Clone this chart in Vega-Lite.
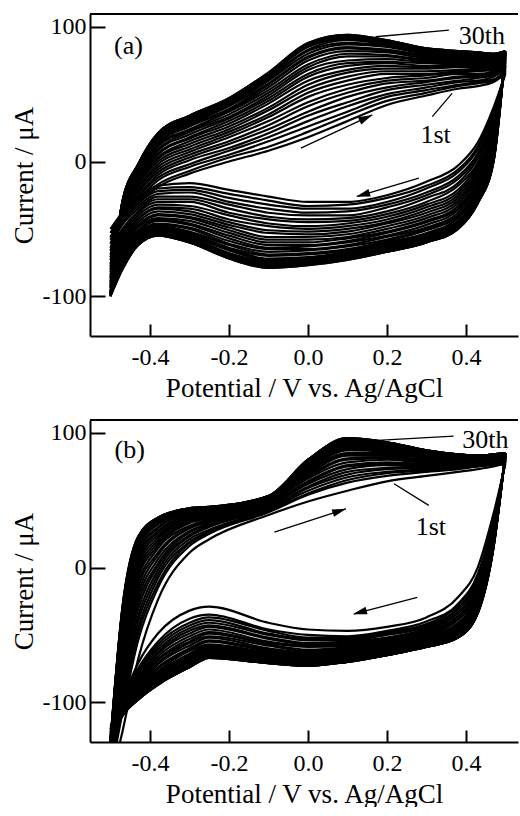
{
"$schema":"https://vega.github.io/schema/vega-lite/v6.json",
"background":"white",
"padding":{"left":10,"top":13,"right":0,"bottom":0},
"config":{"view":{"stroke":null},"axis":{"labelFont":"Liberation Serif","titleFont":"Liberation Serif","labelFontSize":24,"titleFontSize":27,"titleFontWeight":"normal","labelColor":"black","titleColor":"black","domainColor":"black","tickColor":"black","domainWidth":2,"tickWidth":2,"grid":false,"labelFlush":false,"labelOverlap":false}},
"datasets":{
"a":[
{"c":1,"x":-0.5,"f":-50,"r":-50},{"c":1,"x":-0.47,"f":-42,"r":-38},{"c":1,"x":-0.43,"f":-31,"r":-27},{"c":1,"x":-0.38,"f":-19,"r":-18},{"c":1,"x":-0.3,"f":-9,"r":-16},{"c":1,"x":-0.2,"f":0,"r":-21},{"c":1,"x":-0.1,"f":8,"r":-26},{"c":1,"x":0,"f":18,"r":-30},{"c":1,"x":0.1,"f":30,"r":-30},{"c":1,"x":0.2,"f":42,"r":-25},{"c":1,"x":0.3,"f":49,"r":-15},{"c":1,"x":0.38,"f":54,"r":-3},{"c":1,"x":0.43,"f":56,"r":14},{"c":1,"x":0.47,"f":59,"r":40},{"c":1,"x":0.5,"f":65,"r":65},
{"c":2,"x":-0.5,"f":-53,"r":-53},{"c":2,"x":-0.47,"f":-41,"r":-40},{"c":2,"x":-0.43,"f":-29,"r":-29},{"c":2,"x":-0.38,"f":-17,"r":-20},{"c":2,"x":-0.3,"f":-7,"r":-19},{"c":2,"x":-0.2,"f":3,"r":-24},{"c":2,"x":-0.1,"f":11,"r":-29},{"c":2,"x":0,"f":22,"r":-33},{"c":2,"x":0.1,"f":34,"r":-32},{"c":2,"x":0.2,"f":45,"r":-27},{"c":2,"x":0.3,"f":51,"r":-18},{"c":2,"x":0.38,"f":56,"r":-6},{"c":2,"x":0.43,"f":58,"r":11},{"c":2,"x":0.47,"f":60,"r":38},{"c":2,"x":0.5,"f":66,"r":66},
{"c":3,"x":-0.5,"f":-56,"r":-56},{"c":3,"x":-0.47,"f":-41,"r":-43},{"c":3,"x":-0.43,"f":-28,"r":-31},{"c":3,"x":-0.38,"f":-14,"r":-22},{"c":3,"x":-0.3,"f":-4,"r":-21},{"c":3,"x":-0.2,"f":5,"r":-27},{"c":3,"x":-0.1,"f":15,"r":-32},{"c":3,"x":0,"f":26,"r":-35},{"c":3,"x":0.1,"f":37,"r":-35},{"c":3,"x":0.2,"f":48,"r":-30},{"c":3,"x":0.3,"f":53,"r":-20},{"c":3,"x":0.38,"f":57,"r":-8},{"c":3,"x":0.43,"f":59,"r":9},{"c":3,"x":0.47,"f":61,"r":35},{"c":3,"x":0.5,"f":67,"r":67},
{"c":4,"x":-0.5,"f":-58,"r":-58},{"c":4,"x":-0.47,"f":-40,"r":-45},{"c":4,"x":-0.43,"f":-26,"r":-33},{"c":4,"x":-0.38,"f":-12,"r":-24},{"c":4,"x":-0.3,"f":-2,"r":-23},{"c":4,"x":-0.2,"f":8,"r":-30},{"c":4,"x":-0.1,"f":18,"r":-35},{"c":4,"x":0,"f":30,"r":-38},{"c":4,"x":0.1,"f":41,"r":-37},{"c":4,"x":0.2,"f":50,"r":-32},{"c":4,"x":0.3,"f":55,"r":-23},{"c":4,"x":0.38,"f":59,"r":-11},{"c":4,"x":0.43,"f":60,"r":6},{"c":4,"x":0.47,"f":63,"r":33},{"c":4,"x":0.5,"f":68,"r":68},
{"c":5,"x":-0.5,"f":-61,"r":-61},{"c":5,"x":-0.47,"f":-39,"r":-47},{"c":5,"x":-0.43,"f":-25,"r":-35},{"c":5,"x":-0.38,"f":-10,"r":-26},{"c":5,"x":-0.3,"f":1,"r":-26},{"c":5,"x":-0.2,"f":10,"r":-32},{"c":5,"x":-0.1,"f":21,"r":-38},{"c":5,"x":0,"f":34,"r":-40},{"c":5,"x":0.1,"f":44,"r":-40},{"c":5,"x":0.2,"f":53,"r":-34},{"c":5,"x":0.3,"f":57,"r":-25},{"c":5,"x":0.38,"f":60,"r":-13},{"c":5,"x":0.43,"f":62,"r":4},{"c":5,"x":0.47,"f":64,"r":31},{"c":5,"x":0.5,"f":69,"r":69},
{"c":6,"x":-0.5,"f":-64,"r":-64},{"c":6,"x":-0.47,"f":-39,"r":-50},{"c":6,"x":-0.43,"f":-23,"r":-37},{"c":6,"x":-0.38,"f":-8,"r":-28},{"c":6,"x":-0.3,"f":3,"r":-28},{"c":6,"x":-0.2,"f":13,"r":-35},{"c":6,"x":-0.1,"f":24,"r":-41},{"c":6,"x":0,"f":37,"r":-43},{"c":6,"x":0.1,"f":48,"r":-42},{"c":6,"x":0.2,"f":55,"r":-37},{"c":6,"x":0.3,"f":59,"r":-27},{"c":6,"x":0.38,"f":62,"r":-16},{"c":6,"x":0.43,"f":63,"r":2},{"c":6,"x":0.47,"f":65,"r":29},{"c":6,"x":0.5,"f":70,"r":70},
{"c":7,"x":-0.5,"f":-66,"r":-66},{"c":7,"x":-0.47,"f":-38,"r":-52},{"c":7,"x":-0.43,"f":-22,"r":-38},{"c":7,"x":-0.38,"f":-6,"r":-30},{"c":7,"x":-0.3,"f":5,"r":-30},{"c":7,"x":-0.2,"f":15,"r":-38},{"c":7,"x":-0.1,"f":27,"r":-43},{"c":7,"x":0,"f":41,"r":-45},{"c":7,"x":0.1,"f":51,"r":-44},{"c":7,"x":0.2,"f":58,"r":-39},{"c":7,"x":0.3,"f":60,"r":-30},{"c":7,"x":0.38,"f":63,"r":-18},{"c":7,"x":0.43,"f":64,"r":-1},{"c":7,"x":0.47,"f":66,"r":27},{"c":7,"x":0.5,"f":71,"r":71},
{"c":8,"x":-0.5,"f":-69,"r":-69},{"c":8,"x":-0.47,"f":-37,"r":-54},{"c":8,"x":-0.43,"f":-20,"r":-40},{"c":8,"x":-0.38,"f":-4,"r":-32},{"c":8,"x":-0.3,"f":7,"r":-33},{"c":8,"x":-0.2,"f":18,"r":-40},{"c":8,"x":-0.1,"f":30,"r":-46},{"c":8,"x":0,"f":44,"r":-48},{"c":8,"x":0.1,"f":54,"r":-46},{"c":8,"x":0.2,"f":60,"r":-41},{"c":8,"x":0.3,"f":62,"r":-32},{"c":8,"x":0.38,"f":65,"r":-21},{"c":8,"x":0.43,"f":65,"r":-3},{"c":8,"x":0.47,"f":67,"r":25},{"c":8,"x":0.5,"f":71,"r":71},
{"c":9,"x":-0.5,"f":-71,"r":-71},{"c":9,"x":-0.47,"f":-37,"r":-56},{"c":9,"x":-0.43,"f":-19,"r":-42},{"c":9,"x":-0.38,"f":-2,"r":-34},{"c":9,"x":-0.3,"f":9,"r":-35},{"c":9,"x":-0.2,"f":20,"r":-43},{"c":9,"x":-0.1,"f":33,"r":-48},{"c":9,"x":0,"f":48,"r":-50},{"c":9,"x":0.1,"f":57,"r":-48},{"c":9,"x":0.2,"f":62,"r":-43},{"c":9,"x":0.3,"f":64,"r":-34},{"c":9,"x":0.38,"f":66,"r":-23},{"c":9,"x":0.43,"f":67,"r":-5},{"c":9,"x":0.47,"f":68,"r":23},{"c":9,"x":0.5,"f":72,"r":72},
{"c":10,"x":-0.5,"f":-73,"r":-73},{"c":10,"x":-0.47,"f":-36,"r":-58},{"c":10,"x":-0.43,"f":-17,"r":-43},{"c":10,"x":-0.38,"f":0,"r":-35},{"c":10,"x":-0.3,"f":11,"r":-37},{"c":10,"x":-0.2,"f":22,"r":-45},{"c":10,"x":-0.1,"f":35,"r":-51},{"c":10,"x":0,"f":51,"r":-52},{"c":10,"x":0.1,"f":60,"r":-50},{"c":10,"x":0.2,"f":65,"r":-45},{"c":10,"x":0.3,"f":65,"r":-36},{"c":10,"x":0.38,"f":67,"r":-25},{"c":10,"x":0.43,"f":68,"r":-7},{"c":10,"x":0.47,"f":69,"r":21},{"c":10,"x":0.5,"f":73,"r":73},
{"c":11,"x":-0.5,"f":-76,"r":-76},{"c":11,"x":-0.47,"f":-36,"r":-60},{"c":11,"x":-0.43,"f":-16,"r":-45},{"c":11,"x":-0.38,"f":2,"r":-37},{"c":11,"x":-0.3,"f":13,"r":-39},{"c":11,"x":-0.2,"f":24,"r":-47},{"c":11,"x":-0.1,"f":38,"r":-53},{"c":11,"x":0,"f":54,"r":-54},{"c":11,"x":0.1,"f":63,"r":-52},{"c":11,"x":0.2,"f":67,"r":-46},{"c":11,"x":0.3,"f":67,"r":-38},{"c":11,"x":0.38,"f":68,"r":-27},{"c":11,"x":0.43,"f":69,"r":-9},{"c":11,"x":0.47,"f":70,"r":20},{"c":11,"x":0.5,"f":74,"r":74},
{"c":12,"x":-0.5,"f":-78,"r":-78},{"c":12,"x":-0.47,"f":-35,"r":-61},{"c":12,"x":-0.43,"f":-15,"r":-47},{"c":12,"x":-0.38,"f":3,"r":-39},{"c":12,"x":-0.3,"f":15,"r":-41},{"c":12,"x":-0.2,"f":26,"r":-49},{"c":12,"x":-0.1,"f":40,"r":-56},{"c":12,"x":0,"f":57,"r":-56},{"c":12,"x":0.1,"f":66,"r":-54},{"c":12,"x":0.2,"f":69,"r":-48},{"c":12,"x":0.3,"f":69,"r":-40},{"c":12,"x":0.38,"f":70,"r":-29},{"c":12,"x":0.43,"f":70,"r":-11},{"c":12,"x":0.47,"f":71,"r":18},{"c":12,"x":0.5,"f":75,"r":75},
{"c":13,"x":-0.5,"f":-80,"r":-80},{"c":13,"x":-0.47,"f":-35,"r":-63},{"c":13,"x":-0.43,"f":-14,"r":-48},{"c":13,"x":-0.38,"f":5,"r":-40},{"c":13,"x":-0.3,"f":17,"r":-42},{"c":13,"x":-0.2,"f":28,"r":-51},{"c":13,"x":-0.1,"f":43,"r":-58},{"c":13,"x":0,"f":60,"r":-58},{"c":13,"x":0.1,"f":68,"r":-56},{"c":13,"x":0.2,"f":71,"r":-50},{"c":13,"x":0.3,"f":70,"r":-42},{"c":13,"x":0.38,"f":71,"r":-31},{"c":13,"x":0.43,"f":71,"r":-13},{"c":13,"x":0.47,"f":72,"r":16},{"c":13,"x":0.5,"f":75,"r":75},
{"c":14,"x":-0.5,"f":-82,"r":-82},{"c":14,"x":-0.47,"f":-34,"r":-65},{"c":14,"x":-0.43,"f":-13,"r":-49},{"c":14,"x":-0.38,"f":6,"r":-42},{"c":14,"x":-0.3,"f":18,"r":-44},{"c":14,"x":-0.2,"f":30,"r":-53},{"c":14,"x":-0.1,"f":45,"r":-60},{"c":14,"x":0,"f":63,"r":-60},{"c":14,"x":0.1,"f":71,"r":-57},{"c":14,"x":0.2,"f":73,"r":-52},{"c":14,"x":0.3,"f":71,"r":-44},{"c":14,"x":0.38,"f":72,"r":-33},{"c":14,"x":0.43,"f":72,"r":-15},{"c":14,"x":0.47,"f":72,"r":15},{"c":14,"x":0.5,"f":76,"r":76},
{"c":15,"x":-0.5,"f":-84,"r":-84},{"c":15,"x":-0.47,"f":-34,"r":-66},{"c":15,"x":-0.43,"f":-12,"r":-51},{"c":15,"x":-0.38,"f":8,"r":-43},{"c":15,"x":-0.3,"f":20,"r":-46},{"c":15,"x":-0.2,"f":32,"r":-55},{"c":15,"x":-0.1,"f":47,"r":-62},{"c":15,"x":0,"f":65,"r":-62},{"c":15,"x":0.1,"f":73,"r":-59},{"c":15,"x":0.2,"f":74,"r":-53},{"c":15,"x":0.3,"f":73,"r":-45},{"c":15,"x":0.38,"f":73,"r":-35},{"c":15,"x":0.43,"f":73,"r":-16},{"c":15,"x":0.47,"f":73,"r":13},{"c":15,"x":0.5,"f":77,"r":77},
{"c":16,"x":-0.5,"f":-86,"r":-86},{"c":16,"x":-0.47,"f":-33,"r":-68},{"c":16,"x":-0.43,"f":-10,"r":-52},{"c":16,"x":-0.38,"f":9,"r":-44},{"c":16,"x":-0.3,"f":22,"r":-47},{"c":16,"x":-0.2,"f":33,"r":-57},{"c":16,"x":-0.1,"f":49,"r":-64},{"c":16,"x":0,"f":68,"r":-63},{"c":16,"x":0.1,"f":75,"r":-60},{"c":16,"x":0.2,"f":76,"r":-55},{"c":16,"x":0.3,"f":74,"r":-47},{"c":16,"x":0.38,"f":74,"r":-36},{"c":16,"x":0.43,"f":74,"r":-18},{"c":16,"x":0.47,"f":74,"r":12},{"c":16,"x":0.5,"f":77,"r":77},
{"c":17,"x":-0.5,"f":-87,"r":-87},{"c":17,"x":-0.47,"f":-33,"r":-69},{"c":17,"x":-0.43,"f":-9,"r":-53},{"c":17,"x":-0.38,"f":11,"r":-46},{"c":17,"x":-0.3,"f":23,"r":-49},{"c":17,"x":-0.2,"f":35,"r":-59},{"c":17,"x":-0.1,"f":51,"r":-65},{"c":17,"x":0,"f":70,"r":-65},{"c":17,"x":0.1,"f":78,"r":-62},{"c":17,"x":0.2,"f":78,"r":-56},{"c":17,"x":0.3,"f":75,"r":-49},{"c":17,"x":0.38,"f":75,"r":-38},{"c":17,"x":0.43,"f":75,"r":-20},{"c":17,"x":0.47,"f":75,"r":10},{"c":17,"x":0.5,"f":78,"r":78},
{"c":18,"x":-0.5,"f":-89,"r":-89},{"c":18,"x":-0.47,"f":-33,"r":-71},{"c":18,"x":-0.43,"f":-9,"r":-54},{"c":18,"x":-0.38,"f":12,"r":-47},{"c":18,"x":-0.3,"f":24,"r":-50},{"c":18,"x":-0.2,"f":37,"r":-61},{"c":18,"x":-0.1,"f":53,"r":-67},{"c":18,"x":0,"f":72,"r":-66},{"c":18,"x":0.1,"f":80,"r":-63},{"c":18,"x":0.2,"f":79,"r":-58},{"c":18,"x":0.3,"f":76,"r":-50},{"c":18,"x":0.38,"f":76,"r":-40},{"c":18,"x":0.43,"f":75,"r":-21},{"c":18,"x":0.47,"f":75,"r":9},{"c":18,"x":0.5,"f":78,"r":78},
{"c":19,"x":-0.5,"f":-90,"r":-90},{"c":19,"x":-0.47,"f":-32,"r":-72},{"c":19,"x":-0.43,"f":-8,"r":-55},{"c":19,"x":-0.38,"f":13,"r":-48},{"c":19,"x":-0.3,"f":26,"r":-52},{"c":19,"x":-0.2,"f":38,"r":-62},{"c":19,"x":-0.1,"f":55,"r":-69},{"c":19,"x":0,"f":75,"r":-68},{"c":19,"x":0.1,"f":82,"r":-65},{"c":19,"x":0.2,"f":81,"r":-59},{"c":19,"x":0.3,"f":77,"r":-51},{"c":19,"x":0.38,"f":77,"r":-41},{"c":19,"x":0.43,"f":76,"r":-22},{"c":19,"x":0.47,"f":76,"r":8},{"c":19,"x":0.5,"f":79,"r":79},
{"c":20,"x":-0.5,"f":-92,"r":-92},{"c":20,"x":-0.47,"f":-32,"r":-73},{"c":20,"x":-0.43,"f":-7,"r":-56},{"c":20,"x":-0.38,"f":14,"r":-49},{"c":20,"x":-0.3,"f":27,"r":-53},{"c":20,"x":-0.2,"f":39,"r":-64},{"c":20,"x":-0.1,"f":57,"r":-70},{"c":20,"x":0,"f":77,"r":-69},{"c":20,"x":0.1,"f":84,"r":-66},{"c":20,"x":0.2,"f":82,"r":-60},{"c":20,"x":0.3,"f":78,"r":-53},{"c":20,"x":0.38,"f":77,"r":-42},{"c":20,"x":0.43,"f":77,"r":-24},{"c":20,"x":0.47,"f":77,"r":7},{"c":20,"x":0.5,"f":79,"r":79},
{"c":21,"x":-0.5,"f":-93,"r":-93},{"c":21,"x":-0.47,"f":-32,"r":-74},{"c":21,"x":-0.43,"f":-6,"r":-57},{"c":21,"x":-0.38,"f":16,"r":-50},{"c":21,"x":-0.3,"f":28,"r":-54},{"c":21,"x":-0.2,"f":41,"r":-65},{"c":21,"x":-0.1,"f":58,"r":-72},{"c":21,"x":0,"f":78,"r":-71},{"c":21,"x":0.1,"f":85,"r":-67},{"c":21,"x":0.2,"f":83,"r":-61},{"c":21,"x":0.3,"f":79,"r":-54},{"c":21,"x":0.38,"f":78,"r":-44},{"c":21,"x":0.43,"f":78,"r":-25},{"c":21,"x":0.47,"f":77,"r":6},{"c":21,"x":0.5,"f":80,"r":80},
{"c":22,"x":-0.5,"f":-94,"r":-94},{"c":22,"x":-0.47,"f":-31,"r":-75},{"c":22,"x":-0.43,"f":-5,"r":-58},{"c":22,"x":-0.38,"f":17,"r":-51},{"c":22,"x":-0.3,"f":29,"r":-55},{"c":22,"x":-0.2,"f":42,"r":-66},{"c":22,"x":-0.1,"f":60,"r":-73},{"c":22,"x":0,"f":80,"r":-72},{"c":22,"x":0.1,"f":87,"r":-68},{"c":22,"x":0.2,"f":85,"r":-62},{"c":22,"x":0.3,"f":80,"r":-55},{"c":22,"x":0.38,"f":79,"r":-45},{"c":22,"x":0.43,"f":78,"r":-26},{"c":22,"x":0.47,"f":78,"r":5},{"c":22,"x":0.5,"f":80,"r":80},
{"c":23,"x":-0.5,"f":-96,"r":-96},{"c":23,"x":-0.47,"f":-31,"r":-76},{"c":23,"x":-0.43,"f":-5,"r":-59},{"c":23,"x":-0.38,"f":17,"r":-52},{"c":23,"x":-0.3,"f":30,"r":-56},{"c":23,"x":-0.2,"f":43,"r":-68},{"c":23,"x":-0.1,"f":61,"r":-74},{"c":23,"x":0,"f":82,"r":-73},{"c":23,"x":0.1,"f":88,"r":-69},{"c":23,"x":0.2,"f":86,"r":-63},{"c":23,"x":0.3,"f":81,"r":-56},{"c":23,"x":0.38,"f":80,"r":-46},{"c":23,"x":0.43,"f":79,"r":-27},{"c":23,"x":0.47,"f":78,"r":4},{"c":23,"x":0.5,"f":81,"r":81},
{"c":24,"x":-0.5,"f":-97,"r":-97},{"c":24,"x":-0.47,"f":-31,"r":-77},{"c":24,"x":-0.43,"f":-4,"r":-60},{"c":24,"x":-0.38,"f":18,"r":-52},{"c":24,"x":-0.3,"f":31,"r":-57},{"c":24,"x":-0.2,"f":44,"r":-69},{"c":24,"x":-0.1,"f":62,"r":-75},{"c":24,"x":0,"f":83,"r":-74},{"c":24,"x":0.1,"f":90,"r":-70},{"c":24,"x":0.2,"f":87,"r":-64},{"c":24,"x":0.3,"f":82,"r":-57},{"c":24,"x":0.38,"f":80,"r":-47},{"c":24,"x":0.43,"f":79,"r":-28},{"c":24,"x":0.47,"f":79,"r":3},{"c":24,"x":0.5,"f":81,"r":81},
{"c":25,"x":-0.5,"f":-98,"r":-98},{"c":25,"x":-0.47,"f":-31,"r":-78},{"c":25,"x":-0.43,"f":-3,"r":-60},{"c":25,"x":-0.38,"f":19,"r":-53},{"c":25,"x":-0.3,"f":32,"r":-58},{"c":25,"x":-0.2,"f":45,"r":-70},{"c":25,"x":-0.1,"f":63,"r":-76},{"c":25,"x":0,"f":85,"r":-75},{"c":25,"x":0.1,"f":91,"r":-71},{"c":25,"x":0.2,"f":88,"r":-65},{"c":25,"x":0.3,"f":82,"r":-58},{"c":25,"x":0.38,"f":81,"r":-48},{"c":25,"x":0.43,"f":80,"r":-29},{"c":25,"x":0.47,"f":79,"r":2},{"c":25,"x":0.5,"f":81,"r":81},
{"c":26,"x":-0.5,"f":-98,"r":-98},{"c":26,"x":-0.47,"f":-30,"r":-79},{"c":26,"x":-0.43,"f":-3,"r":-61},{"c":26,"x":-0.38,"f":20,"r":-54},{"c":26,"x":-0.3,"f":33,"r":-59},{"c":26,"x":-0.2,"f":45,"r":-70},{"c":26,"x":-0.1,"f":64,"r":-77},{"c":26,"x":0,"f":86,"r":-75},{"c":26,"x":0.1,"f":92,"r":-71},{"c":26,"x":0.2,"f":88,"r":-66},{"c":26,"x":0.3,"f":83,"r":-59},{"c":26,"x":0.38,"f":81,"r":-48},{"c":26,"x":0.43,"f":80,"r":-30},{"c":26,"x":0.47,"f":79,"r":1},{"c":26,"x":0.5,"f":81,"r":81},
{"c":27,"x":-0.5,"f":-99,"r":-99},{"c":27,"x":-0.47,"f":-30,"r":-79},{"c":27,"x":-0.43,"f":-3,"r":-61},{"c":27,"x":-0.38,"f":20,"r":-54},{"c":27,"x":-0.3,"f":33,"r":-59},{"c":27,"x":-0.2,"f":46,"r":-71},{"c":27,"x":-0.1,"f":65,"r":-78},{"c":27,"x":0,"f":87,"r":-76},{"c":27,"x":0.1,"f":93,"r":-72},{"c":27,"x":0.2,"f":89,"r":-66},{"c":27,"x":0.3,"f":83,"r":-59},{"c":27,"x":0.38,"f":81,"r":-49},{"c":27,"x":0.43,"f":81,"r":-30},{"c":27,"x":0.47,"f":80,"r":1},{"c":27,"x":0.5,"f":82,"r":82},
{"c":28,"x":-0.5,"f":-99,"r":-99},{"c":28,"x":-0.47,"f":-30,"r":-80},{"c":28,"x":-0.43,"f":-2,"r":-62},{"c":28,"x":-0.38,"f":21,"r":-55},{"c":28,"x":-0.3,"f":34,"r":-60},{"c":28,"x":-0.2,"f":46,"r":-71},{"c":28,"x":-0.1,"f":65,"r":-78},{"c":28,"x":0,"f":87,"r":-76},{"c":28,"x":0.1,"f":93,"r":-72},{"c":28,"x":0.2,"f":90,"r":-67},{"c":28,"x":0.3,"f":84,"r":-60},{"c":28,"x":0.38,"f":82,"r":-50},{"c":28,"x":0.43,"f":81,"r":-31},{"c":28,"x":0.47,"f":80,"r":0},{"c":28,"x":0.5,"f":82,"r":82},
{"c":29,"x":-0.5,"f":-100,"r":-100},{"c":29,"x":-0.47,"f":-30,"r":-80},{"c":29,"x":-0.43,"f":-2,"r":-62},{"c":29,"x":-0.38,"f":21,"r":-55},{"c":29,"x":-0.3,"f":34,"r":-60},{"c":29,"x":-0.2,"f":47,"r":-72},{"c":29,"x":-0.1,"f":66,"r":-79},{"c":29,"x":0,"f":88,"r":-77},{"c":29,"x":0.1,"f":94,"r":-73},{"c":29,"x":0.2,"f":90,"r":-67},{"c":29,"x":0.3,"f":84,"r":-60},{"c":29,"x":0.38,"f":82,"r":-50},{"c":29,"x":0.43,"f":81,"r":-31},{"c":29,"x":0.47,"f":80,"r":0},{"c":29,"x":0.5,"f":82,"r":82},
{"c":30,"x":-0.5,"f":-100,"r":-100},{"c":30,"x":-0.47,"f":-30,"r":-80},{"c":30,"x":-0.43,"f":-2,"r":-62},{"c":30,"x":-0.38,"f":21,"r":-55},{"c":30,"x":-0.3,"f":34,"r":-60},{"c":30,"x":-0.2,"f":47,"r":-72},{"c":30,"x":-0.1,"f":66,"r":-79},{"c":30,"x":0,"f":88,"r":-77},{"c":30,"x":0.1,"f":94,"r":-73},{"c":30,"x":0.2,"f":90,"r":-67},{"c":30,"x":0.3,"f":84,"r":-60},{"c":30,"x":0.38,"f":82,"r":-50},{"c":30,"x":0.43,"f":81,"r":-31},{"c":30,"x":0.47,"f":80,"r":0},{"c":30,"x":0.5,"f":82,"r":82}
],
"b":[
{"c":1,"x":-0.5,"f":-160,"r":-118},{"c":1,"x":-0.47,"f":-122,"r":-98},{"c":1,"x":-0.43,"f":-68,"r":-71},{"c":1,"x":-0.38,"f":-24,"r":-49},{"c":1,"x":-0.3,"f":11,"r":-32},{"c":1,"x":-0.25,"f":21,"r":-29},{"c":1,"x":-0.1,"f":39,"r":-41},{"c":1,"x":0,"f":49,"r":-46},{"c":1,"x":0.1,"f":57,"r":-47},{"c":1,"x":0.2,"f":64,"r":-44},{"c":1,"x":0.3,"f":68,"r":-37},{"c":1,"x":0.38,"f":71,"r":-22},{"c":1,"x":0.43,"f":73,"r":0},{"c":1,"x":0.47,"f":75,"r":40},{"c":1,"x":0.5,"f":77,"r":77},
{"c":2,"x":-0.5,"f":-155,"r":-119},{"c":2,"x":-0.47,"f":-108,"r":-100},{"c":2,"x":-0.43,"f":-54,"r":-75},{"c":2,"x":-0.38,"f":-15,"r":-55},{"c":2,"x":-0.3,"f":16,"r":-38},{"c":2,"x":-0.25,"f":25,"r":-35},{"c":2,"x":-0.1,"f":41,"r":-46},{"c":2,"x":0,"f":54,"r":-50},{"c":2,"x":0.1,"f":63,"r":-51},{"c":2,"x":0.2,"f":68,"r":-47},{"c":2,"x":0.3,"f":71,"r":-40},{"c":2,"x":0.38,"f":73,"r":-27},{"c":2,"x":0.43,"f":75,"r":-5},{"c":2,"x":0.47,"f":76,"r":36},{"c":2,"x":0.5,"f":78,"r":78},
{"c":3,"x":-0.5,"f":-154,"r":-120},{"c":3,"x":-0.47,"f":-103,"r":-100},{"c":3,"x":-0.43,"f":-49,"r":-77},{"c":3,"x":-0.38,"f":-12,"r":-57},{"c":3,"x":-0.3,"f":18,"r":-41},{"c":3,"x":-0.25,"f":26,"r":-37},{"c":3,"x":-0.1,"f":42,"r":-47},{"c":3,"x":0,"f":55,"r":-52},{"c":3,"x":0.1,"f":65,"r":-52},{"c":3,"x":0.2,"f":70,"r":-48},{"c":3,"x":0.3,"f":72,"r":-42},{"c":3,"x":0.38,"f":74,"r":-28},{"c":3,"x":0.43,"f":75,"r":-7},{"c":3,"x":0.47,"f":77,"r":35},{"c":3,"x":0.5,"f":79,"r":79},
{"c":4,"x":-0.5,"f":-152,"r":-120},{"c":4,"x":-0.47,"f":-98,"r":-101},{"c":4,"x":-0.43,"f":-45,"r":-78},{"c":4,"x":-0.38,"f":-8,"r":-59},{"c":4,"x":-0.3,"f":19,"r":-43},{"c":4,"x":-0.25,"f":27,"r":-39},{"c":4,"x":-0.1,"f":43,"r":-49},{"c":4,"x":0,"f":57,"r":-53},{"c":4,"x":0.1,"f":67,"r":-53},{"c":4,"x":0.2,"f":71,"r":-49},{"c":4,"x":0.3,"f":73,"r":-43},{"c":4,"x":0.38,"f":74,"r":-30},{"c":4,"x":0.43,"f":76,"r":-9},{"c":4,"x":0.47,"f":77,"r":34},{"c":4,"x":0.5,"f":79,"r":79},
{"c":5,"x":-0.5,"f":-150,"r":-121},{"c":5,"x":-0.47,"f":-94,"r":-102},{"c":5,"x":-0.43,"f":-40,"r":-79},{"c":5,"x":-0.38,"f":-5,"r":-61},{"c":5,"x":-0.3,"f":21,"r":-45},{"c":5,"x":-0.25,"f":28,"r":-41},{"c":5,"x":-0.1,"f":43,"r":-50},{"c":5,"x":0,"f":59,"r":-54},{"c":5,"x":0.1,"f":69,"r":-54},{"c":5,"x":0.2,"f":73,"r":-50},{"c":5,"x":0.3,"f":74,"r":-44},{"c":5,"x":0.38,"f":75,"r":-31},{"c":5,"x":0.43,"f":76,"r":-10},{"c":5,"x":0.47,"f":78,"r":32},{"c":5,"x":0.5,"f":80,"r":80},
{"c":6,"x":-0.5,"f":-149,"r":-121},{"c":6,"x":-0.47,"f":-89,"r":-102},{"c":6,"x":-0.43,"f":-36,"r":-81},{"c":6,"x":-0.38,"f":-2,"r":-63},{"c":6,"x":-0.3,"f":23,"r":-47},{"c":6,"x":-0.25,"f":30,"r":-43},{"c":6,"x":-0.1,"f":44,"r":-52},{"c":6,"x":0,"f":60,"r":-56},{"c":6,"x":0.1,"f":71,"r":-55},{"c":6,"x":0.2,"f":74,"r":-52},{"c":6,"x":0.3,"f":75,"r":-45},{"c":6,"x":0.38,"f":76,"r":-33},{"c":6,"x":0.43,"f":77,"r":-12},{"c":6,"x":0.47,"f":78,"r":31},{"c":6,"x":0.5,"f":80,"r":80},
{"c":7,"x":-0.5,"f":-147,"r":-122},{"c":7,"x":-0.47,"f":-85,"r":-103},{"c":7,"x":-0.43,"f":-31,"r":-82},{"c":7,"x":-0.38,"f":1,"r":-64},{"c":7,"x":-0.3,"f":24,"r":-49},{"c":7,"x":-0.25,"f":31,"r":-44},{"c":7,"x":-0.1,"f":45,"r":-53},{"c":7,"x":0,"f":62,"r":-57},{"c":7,"x":0.1,"f":73,"r":-56},{"c":7,"x":0.2,"f":76,"r":-53},{"c":7,"x":0.3,"f":76,"r":-46},{"c":7,"x":0.38,"f":76,"r":-34},{"c":7,"x":0.43,"f":77,"r":-14},{"c":7,"x":0.47,"f":79,"r":30},{"c":7,"x":0.5,"f":80,"r":80},
{"c":8,"x":-0.5,"f":-146,"r":-122},{"c":8,"x":-0.47,"f":-81,"r":-103},{"c":8,"x":-0.43,"f":-27,"r":-83},{"c":8,"x":-0.38,"f":3,"r":-66},{"c":8,"x":-0.3,"f":26,"r":-51},{"c":8,"x":-0.25,"f":32,"r":-46},{"c":8,"x":-0.1,"f":45,"r":-55},{"c":8,"x":0,"f":63,"r":-58},{"c":8,"x":0.1,"f":75,"r":-57},{"c":8,"x":0.2,"f":77,"r":-53},{"c":8,"x":0.3,"f":77,"r":-47},{"c":8,"x":0.38,"f":77,"r":-36},{"c":8,"x":0.43,"f":78,"r":-15},{"c":8,"x":0.47,"f":79,"r":29},{"c":8,"x":0.5,"f":81,"r":81},
{"c":9,"x":-0.5,"f":-144,"r":-122},{"c":9,"x":-0.47,"f":-77,"r":-104},{"c":9,"x":-0.43,"f":-23,"r":-84},{"c":9,"x":-0.38,"f":6,"r":-68},{"c":9,"x":-0.3,"f":27,"r":-53},{"c":9,"x":-0.25,"f":33,"r":-48},{"c":9,"x":-0.1,"f":46,"r":-56},{"c":9,"x":0,"f":64,"r":-59},{"c":9,"x":0.1,"f":76,"r":-58},{"c":9,"x":0.2,"f":78,"r":-54},{"c":9,"x":0.3,"f":77,"r":-48},{"c":9,"x":0.38,"f":77,"r":-37},{"c":9,"x":0.43,"f":78,"r":-17},{"c":9,"x":0.47,"f":79,"r":28},{"c":9,"x":0.5,"f":81,"r":81},
{"c":10,"x":-0.5,"f":-143,"r":-123},{"c":10,"x":-0.47,"f":-73,"r":-104},{"c":10,"x":-0.43,"f":-19,"r":-86},{"c":10,"x":-0.38,"f":9,"r":-69},{"c":10,"x":-0.3,"f":29,"r":-55},{"c":10,"x":-0.25,"f":34,"r":-49},{"c":10,"x":-0.1,"f":47,"r":-57},{"c":10,"x":0,"f":66,"r":-61},{"c":10,"x":0.1,"f":78,"r":-59},{"c":10,"x":0.2,"f":80,"r":-55},{"c":10,"x":0.3,"f":78,"r":-49},{"c":10,"x":0.38,"f":78,"r":-38},{"c":10,"x":0.43,"f":78,"r":-18},{"c":10,"x":0.47,"f":80,"r":27},{"c":10,"x":0.5,"f":81,"r":81},
{"c":11,"x":-0.5,"f":-142,"r":-123},{"c":11,"x":-0.47,"f":-69,"r":-105},{"c":11,"x":-0.43,"f":-15,"r":-87},{"c":11,"x":-0.38,"f":11,"r":-71},{"c":11,"x":-0.3,"f":30,"r":-56},{"c":11,"x":-0.25,"f":35,"r":-51},{"c":11,"x":-0.1,"f":47,"r":-58},{"c":11,"x":0,"f":67,"r":-62},{"c":11,"x":0.1,"f":80,"r":-60},{"c":11,"x":0.2,"f":81,"r":-56},{"c":11,"x":0.3,"f":79,"r":-50},{"c":11,"x":0.38,"f":79,"r":-39},{"c":11,"x":0.43,"f":79,"r":-20},{"c":11,"x":0.47,"f":80,"r":26},{"c":11,"x":0.5,"f":82,"r":82},
{"c":12,"x":-0.5,"f":-140,"r":-124},{"c":12,"x":-0.47,"f":-65,"r":-105},{"c":12,"x":-0.43,"f":-12,"r":-88},{"c":12,"x":-0.38,"f":14,"r":-72},{"c":12,"x":-0.3,"f":31,"r":-58},{"c":12,"x":-0.25,"f":36,"r":-52},{"c":12,"x":-0.1,"f":48,"r":-60},{"c":12,"x":0,"f":68,"r":-63},{"c":12,"x":0.1,"f":81,"r":-61},{"c":12,"x":0.2,"f":82,"r":-57},{"c":12,"x":0.3,"f":80,"r":-51},{"c":12,"x":0.38,"f":79,"r":-41},{"c":12,"x":0.43,"f":79,"r":-21},{"c":12,"x":0.47,"f":81,"r":25},{"c":12,"x":0.5,"f":82,"r":82},
{"c":13,"x":-0.5,"f":-139,"r":-124},{"c":13,"x":-0.47,"f":-62,"r":-106},{"c":13,"x":-0.43,"f":-8,"r":-89},{"c":13,"x":-0.38,"f":16,"r":-74},{"c":13,"x":-0.3,"f":33,"r":-60},{"c":13,"x":-0.25,"f":37,"r":-54},{"c":13,"x":-0.1,"f":48,"r":-61},{"c":13,"x":0,"f":69,"r":-64},{"c":13,"x":0.1,"f":83,"r":-62},{"c":13,"x":0.2,"f":83,"r":-58},{"c":13,"x":0.3,"f":80,"r":-51},{"c":13,"x":0.38,"f":80,"r":-42},{"c":13,"x":0.43,"f":80,"r":-22},{"c":13,"x":0.47,"f":81,"r":24},{"c":13,"x":0.5,"f":82,"r":82},
{"c":14,"x":-0.5,"f":-138,"r":-124},{"c":14,"x":-0.47,"f":-58,"r":-106},{"c":14,"x":-0.43,"f":-5,"r":-90},{"c":14,"x":-0.38,"f":18,"r":-75},{"c":14,"x":-0.3,"f":34,"r":-61},{"c":14,"x":-0.25,"f":38,"r":-55},{"c":14,"x":-0.1,"f":49,"r":-62},{"c":14,"x":0,"f":70,"r":-65},{"c":14,"x":0.1,"f":84,"r":-63},{"c":14,"x":0.2,"f":84,"r":-59},{"c":14,"x":0.3,"f":81,"r":-52},{"c":14,"x":0.38,"f":80,"r":-43},{"c":14,"x":0.43,"f":80,"r":-23},{"c":14,"x":0.47,"f":81,"r":23},{"c":14,"x":0.5,"f":83,"r":83},
{"c":15,"x":-0.5,"f":-137,"r":-125},{"c":15,"x":-0.47,"f":-55,"r":-107},{"c":15,"x":-0.43,"f":-2,"r":-91},{"c":15,"x":-0.38,"f":20,"r":-77},{"c":15,"x":-0.3,"f":35,"r":-62},{"c":15,"x":-0.25,"f":38,"r":-57},{"c":15,"x":-0.1,"f":49,"r":-63},{"c":15,"x":0,"f":71,"r":-66},{"c":15,"x":0.1,"f":85,"r":-64},{"c":15,"x":0.2,"f":85,"r":-59},{"c":15,"x":0.3,"f":82,"r":-53},{"c":15,"x":0.38,"f":80,"r":-44},{"c":15,"x":0.43,"f":80,"r":-25},{"c":15,"x":0.47,"f":82,"r":22},{"c":15,"x":0.5,"f":83,"r":83},
{"c":16,"x":-0.5,"f":-136,"r":-125},{"c":16,"x":-0.47,"f":-52,"r":-107},{"c":16,"x":-0.43,"f":1,"r":-91},{"c":16,"x":-0.38,"f":22,"r":-78},{"c":16,"x":-0.3,"f":36,"r":-64},{"c":16,"x":-0.25,"f":39,"r":-58},{"c":16,"x":-0.1,"f":50,"r":-64},{"c":16,"x":0,"f":72,"r":-66},{"c":16,"x":0.1,"f":87,"r":-64},{"c":16,"x":0.2,"f":86,"r":-60},{"c":16,"x":0.3,"f":82,"r":-54},{"c":16,"x":0.38,"f":81,"r":-45},{"c":16,"x":0.43,"f":81,"r":-26},{"c":16,"x":0.47,"f":82,"r":21},{"c":16,"x":0.5,"f":83,"r":83},
{"c":17,"x":-0.5,"f":-135,"r":-125},{"c":17,"x":-0.47,"f":-50,"r":-107},{"c":17,"x":-0.43,"f":4,"r":-92},{"c":17,"x":-0.38,"f":24,"r":-79},{"c":17,"x":-0.3,"f":37,"r":-65},{"c":17,"x":-0.25,"f":40,"r":-59},{"c":17,"x":-0.1,"f":50,"r":-65},{"c":17,"x":0,"f":73,"r":-67},{"c":17,"x":0.1,"f":88,"r":-65},{"c":17,"x":0.2,"f":87,"r":-61},{"c":17,"x":0.3,"f":83,"r":-54},{"c":17,"x":0.38,"f":81,"r":-46},{"c":17,"x":0.43,"f":81,"r":-27},{"c":17,"x":0.47,"f":82,"r":20},{"c":17,"x":0.5,"f":83,"r":83},
{"c":18,"x":-0.5,"f":-134,"r":-125},{"c":18,"x":-0.47,"f":-47,"r":-108},{"c":18,"x":-0.43,"f":6,"r":-93},{"c":18,"x":-0.38,"f":26,"r":-80},{"c":18,"x":-0.3,"f":38,"r":-66},{"c":18,"x":-0.25,"f":41,"r":-60},{"c":18,"x":-0.1,"f":50,"r":-66},{"c":18,"x":0,"f":74,"r":-68},{"c":18,"x":0.1,"f":89,"r":-66},{"c":18,"x":0.2,"f":88,"r":-61},{"c":18,"x":0.3,"f":84,"r":-55},{"c":18,"x":0.38,"f":82,"r":-47},{"c":18,"x":0.43,"f":81,"r":-28},{"c":18,"x":0.47,"f":82,"r":20},{"c":18,"x":0.5,"f":84,"r":84},
{"c":19,"x":-0.5,"f":-133,"r":-126},{"c":19,"x":-0.47,"f":-44,"r":-108},{"c":19,"x":-0.43,"f":9,"r":-94},{"c":19,"x":-0.38,"f":27,"r":-81},{"c":19,"x":-0.3,"f":39,"r":-67},{"c":19,"x":-0.25,"f":41,"r":-61},{"c":19,"x":-0.1,"f":51,"r":-66},{"c":19,"x":0,"f":75,"r":-69},{"c":19,"x":0.1,"f":90,"r":-66},{"c":19,"x":0.2,"f":88,"r":-62},{"c":19,"x":0.3,"f":84,"r":-56},{"c":19,"x":0.38,"f":82,"r":-47},{"c":19,"x":0.43,"f":81,"r":-29},{"c":19,"x":0.47,"f":83,"r":19},{"c":19,"x":0.5,"f":84,"r":84},
{"c":20,"x":-0.5,"f":-132,"r":-126},{"c":20,"x":-0.47,"f":-42,"r":-108},{"c":20,"x":-0.43,"f":11,"r":-94},{"c":20,"x":-0.38,"f":29,"r":-82},{"c":20,"x":-0.3,"f":40,"r":-68},{"c":20,"x":-0.25,"f":42,"r":-62},{"c":20,"x":-0.1,"f":51,"r":-67},{"c":20,"x":0,"f":76,"r":-69},{"c":20,"x":0.1,"f":91,"r":-67},{"c":20,"x":0.2,"f":89,"r":-62},{"c":20,"x":0.3,"f":85,"r":-56},{"c":20,"x":0.38,"f":82,"r":-48},{"c":20,"x":0.43,"f":82,"r":-29},{"c":20,"x":0.47,"f":83,"r":18},{"c":20,"x":0.5,"f":84,"r":84},
{"c":21,"x":-0.5,"f":-132,"r":-126},{"c":21,"x":-0.47,"f":-40,"r":-109},{"c":21,"x":-0.43,"f":13,"r":-95},{"c":21,"x":-0.38,"f":30,"r":-83},{"c":21,"x":-0.3,"f":40,"r":-69},{"c":21,"x":-0.25,"f":42,"r":-63},{"c":21,"x":-0.1,"f":52,"r":-68},{"c":21,"x":0,"f":77,"r":-70},{"c":21,"x":0.1,"f":92,"r":-68},{"c":21,"x":0.2,"f":90,"r":-63},{"c":21,"x":0.3,"f":85,"r":-57},{"c":21,"x":0.38,"f":83,"r":-49},{"c":21,"x":0.43,"f":82,"r":-30},{"c":21,"x":0.47,"f":83,"r":18},{"c":21,"x":0.5,"f":84,"r":84},
{"c":22,"x":-0.5,"f":-131,"r":-126},{"c":22,"x":-0.47,"f":-38,"r":-109},{"c":22,"x":-0.43,"f":15,"r":-96},{"c":22,"x":-0.38,"f":32,"r":-84},{"c":22,"x":-0.3,"f":41,"r":-70},{"c":22,"x":-0.25,"f":43,"r":-64},{"c":22,"x":-0.1,"f":52,"r":-68},{"c":22,"x":0,"f":77,"r":-71},{"c":22,"x":0.1,"f":93,"r":-68},{"c":22,"x":0.2,"f":90,"r":-63},{"c":22,"x":0.3,"f":85,"r":-57},{"c":22,"x":0.38,"f":83,"r":-49},{"c":22,"x":0.43,"f":82,"r":-31},{"c":22,"x":0.47,"f":83,"r":17},{"c":22,"x":0.5,"f":84,"r":84},
{"c":23,"x":-0.5,"f":-130,"r":-126},{"c":23,"x":-0.47,"f":-36,"r":-109},{"c":23,"x":-0.43,"f":17,"r":-96},{"c":23,"x":-0.38,"f":33,"r":-84},{"c":23,"x":-0.3,"f":42,"r":-71},{"c":23,"x":-0.25,"f":43,"r":-64},{"c":23,"x":-0.1,"f":52,"r":-69},{"c":23,"x":0,"f":78,"r":-71},{"c":23,"x":0.1,"f":93,"r":-68},{"c":23,"x":0.2,"f":91,"r":-64},{"c":23,"x":0.3,"f":86,"r":-58},{"c":23,"x":0.38,"f":83,"r":-50},{"c":23,"x":0.43,"f":82,"r":-32},{"c":23,"x":0.47,"f":83,"r":17},{"c":23,"x":0.5,"f":84,"r":84},
{"c":24,"x":-0.5,"f":-130,"r":-127},{"c":24,"x":-0.47,"f":-35,"r":-109},{"c":24,"x":-0.43,"f":18,"r":-97},{"c":24,"x":-0.38,"f":34,"r":-85},{"c":24,"x":-0.3,"f":42,"r":-72},{"c":24,"x":-0.25,"f":44,"r":-65},{"c":24,"x":-0.1,"f":52,"r":-69},{"c":24,"x":0,"f":78,"r":-72},{"c":24,"x":0.1,"f":94,"r":-69},{"c":24,"x":0.2,"f":92,"r":-64},{"c":24,"x":0.3,"f":86,"r":-58},{"c":24,"x":0.38,"f":83,"r":-50},{"c":24,"x":0.43,"f":83,"r":-32},{"c":24,"x":0.47,"f":84,"r":16},{"c":24,"x":0.5,"f":85,"r":85},
{"c":25,"x":-0.5,"f":-129,"r":-127},{"c":25,"x":-0.47,"f":-33,"r":-110},{"c":25,"x":-0.43,"f":20,"r":-97},{"c":25,"x":-0.38,"f":35,"r":-86},{"c":25,"x":-0.3,"f":43,"r":-72},{"c":25,"x":-0.25,"f":44,"r":-66},{"c":25,"x":-0.1,"f":53,"r":-70},{"c":25,"x":0,"f":79,"r":-72},{"c":25,"x":0.1,"f":95,"r":-69},{"c":25,"x":0.2,"f":92,"r":-64},{"c":25,"x":0.3,"f":86,"r":-58},{"c":25,"x":0.38,"f":84,"r":-51},{"c":25,"x":0.43,"f":83,"r":-33},{"c":25,"x":0.47,"f":84,"r":16},{"c":25,"x":0.5,"f":85,"r":85},
{"c":26,"x":-0.5,"f":-129,"r":-127},{"c":26,"x":-0.47,"f":-32,"r":-110},{"c":26,"x":-0.43,"f":21,"r":-97},{"c":26,"x":-0.38,"f":35,"r":-86},{"c":26,"x":-0.3,"f":43,"r":-73},{"c":26,"x":-0.25,"f":44,"r":-66},{"c":26,"x":-0.1,"f":53,"r":-70},{"c":26,"x":0,"f":79,"r":-72},{"c":26,"x":0.1,"f":95,"r":-69},{"c":26,"x":0.2,"f":92,"r":-65},{"c":26,"x":0.3,"f":87,"r":-58},{"c":26,"x":0.38,"f":84,"r":-51},{"c":26,"x":0.43,"f":83,"r":-33},{"c":26,"x":0.47,"f":84,"r":16},{"c":26,"x":0.5,"f":85,"r":85},
{"c":27,"x":-0.5,"f":-129,"r":-127},{"c":27,"x":-0.47,"f":-31,"r":-110},{"c":27,"x":-0.43,"f":22,"r":-98},{"c":27,"x":-0.38,"f":36,"r":-86},{"c":27,"x":-0.3,"f":44,"r":-73},{"c":27,"x":-0.25,"f":45,"r":-66},{"c":27,"x":-0.1,"f":53,"r":-71},{"c":27,"x":0,"f":80,"r":-73},{"c":27,"x":0.1,"f":95,"r":-70},{"c":27,"x":0.2,"f":93,"r":-65},{"c":27,"x":0.3,"f":87,"r":-59},{"c":27,"x":0.38,"f":84,"r":-52},{"c":27,"x":0.43,"f":83,"r":-33},{"c":27,"x":0.47,"f":84,"r":15},{"c":27,"x":0.5,"f":85,"r":85},
{"c":28,"x":-0.5,"f":-128,"r":-127},{"c":28,"x":-0.47,"f":-31,"r":-110},{"c":28,"x":-0.43,"f":22,"r":-98},{"c":28,"x":-0.38,"f":37,"r":-87},{"c":28,"x":-0.3,"f":44,"r":-74},{"c":28,"x":-0.25,"f":45,"r":-67},{"c":28,"x":-0.1,"f":53,"r":-71},{"c":28,"x":0,"f":80,"r":-73},{"c":28,"x":0.1,"f":96,"r":-70},{"c":28,"x":0.2,"f":93,"r":-65},{"c":28,"x":0.3,"f":87,"r":-59},{"c":28,"x":0.38,"f":84,"r":-52},{"c":28,"x":0.43,"f":83,"r":-34},{"c":28,"x":0.47,"f":84,"r":15},{"c":28,"x":0.5,"f":85,"r":85},
{"c":29,"x":-0.5,"f":-128,"r":-127},{"c":29,"x":-0.47,"f":-30,"r":-110},{"c":29,"x":-0.43,"f":23,"r":-98},{"c":29,"x":-0.38,"f":37,"r":-87},{"c":29,"x":-0.3,"f":44,"r":-74},{"c":29,"x":-0.25,"f":45,"r":-67},{"c":29,"x":-0.1,"f":53,"r":-71},{"c":29,"x":0,"f":80,"r":-73},{"c":29,"x":0.1,"f":96,"r":-70},{"c":29,"x":0.2,"f":93,"r":-65},{"c":29,"x":0.3,"f":87,"r":-59},{"c":29,"x":0.38,"f":84,"r":-52},{"c":29,"x":0.43,"f":83,"r":-34},{"c":29,"x":0.47,"f":84,"r":15},{"c":29,"x":0.5,"f":85,"r":85},
{"c":30,"x":-0.5,"f":-128,"r":-127},{"c":30,"x":-0.47,"f":-30,"r":-110},{"c":30,"x":-0.43,"f":23,"r":-98},{"c":30,"x":-0.38,"f":37,"r":-87},{"c":30,"x":-0.3,"f":44,"r":-74},{"c":30,"x":-0.25,"f":45,"r":-67},{"c":30,"x":-0.1,"f":53,"r":-71},{"c":30,"x":0,"f":80,"r":-73},{"c":30,"x":0.1,"f":96,"r":-70},{"c":30,"x":0.2,"f":93,"r":-65},{"c":30,"x":0.3,"f":87,"r":-59},{"c":30,"x":0.38,"f":84,"r":-52},{"c":30,"x":0.43,"f":83,"r":-34},{"c":30,"x":0.47,"f":84,"r":15},{"c":30,"x":0.5,"f":85,"r":85}
],
"ta":[{"x":-0.491,"y":80,"t":"(a)"},{"x":0.382,"y":87.5,"t":"30th"},{"x":0.285,"y":13.6,"t":"1st"}],
"tb":[{"x":-0.49,"y":81,"t":"(b)"},{"x":0.391,"y":88.5,"t":"30th"},{"x":0.273,"y":23.8,"t":"1st"}],
"la":[{"x":0.171,"y":92.6,"x2":0.357,"y2":97.5},{"x":0.365,"y":50.6,"x2":0.315,"y2":33.3},{"x":-0.018,"y":9.9,"x2":0.163,"y2":34.6},{"x":0.281,"y":-12.3,"x2":0.125,"y2":-25.9}],
"lb":[{"x":0.176,"y":94.4,"x2":0.369,"y2":97.6},{"x":0.218,"y":62.2,"x2":0.306,"y2":46.1},{"x":-0.085,"y":26.2,"x2":0.096,"y2":43.6},{"x":0.277,"y":-22.1,"x2":0.117,"y2":-34.4}]
},
"spacing":18,
"vconcat":[
{"width":428,"height":322,"layer":[
{"data":{"name":"a"},"mark":{"type":"line","interpolate":"monotone","color":"black","strokeWidth":2.2,"clip":true},
"encoding":{"x":{"field":"x","type":"quantitative","scale":{"domain":[-0.552,0.532],"nice":false,"zero":false},"axis":{"title":"Potential / V vs. Ag/AgCl","values":[-0.4,-0.2,0,0.2,0.4],"labelExpr":"replace(format(datum.value, '.1f'), '\u2212', '-')","tickSize":-12,"labelPadding":21,"titlePadding":6}},
"y":{"field":"f","type":"quantitative","scale":{"domain":[-129.5,109.5],"nice":false,"zero":false},"axis":{"title":"Current / μA","values":[-100,0,100],"labelExpr":"replace(format(datum.value, 'd'), '\u2212', '-')","tickSize":-15,"labelPadding":19,"titlePadding":4}},
"detail":{"field":"c","type":"nominal"}}},
{"data":{"name":"a"},"mark":{"type":"line","interpolate":"monotone","color":"black","strokeWidth":2.2,"clip":true},
"encoding":{"x":{"field":"x","type":"quantitative"},"y":{"field":"r","type":"quantitative"},"detail":{"field":"c","type":"nominal"}}},
{"data":{"values":[{}]},"mark":{"type":"rule","color":"black","strokeWidth":2},"encoding":{"y":{"datum":109.5,"type":"quantitative"}}},
{"data":{"name":"la"},"mark":{"type":"rule","color":"black","strokeWidth":1.3},"encoding":{"x":{"field":"x","type":"quantitative"},"y":{"field":"y","type":"quantitative"},"x2":{"field":"x2"},"y2":{"field":"y2"}}},
{"data":{"values":[{"x":0.147,"y":32.4}]},"mark":{"type":"point","shape":"M -1 -0.55 L 1 0 L -1 0.55 Z","filled":true,"color":"black","opacity":1,"size":200,"angle":335},"encoding":{"x":{"field":"x","type":"quantitative"},"y":{"field":"y","type":"quantitative"}}},
{"data":{"values":[{"x":0.139,"y":-24.7}]},"mark":{"type":"point","shape":"M -1 -0.55 L 1 0 L -1 0.55 Z","filled":true,"color":"black","opacity":1,"size":200,"angle":163.5},"encoding":{"x":{"field":"x","type":"quantitative"},"y":{"field":"y","type":"quantitative"}}},
{"data":{"name":"ta"},"mark":{"type":"text","align":"left","baseline":"alphabetic","font":"Liberation Serif","fontSize":26,"color":"black"},"encoding":{"x":{"field":"x","type":"quantitative"},"y":{"field":"y","type":"quantitative"},"text":{"field":"t"}}}
]},
{"width":428,"height":322,"layer":[
{"data":{"name":"b"},"mark":{"type":"line","interpolate":"monotone","color":"black","strokeWidth":2.2,"clip":true},
"encoding":{"x":{"field":"x","type":"quantitative","scale":{"domain":[-0.552,0.532],"nice":false,"zero":false},"axis":{"title":"Potential / V vs. Ag/AgCl","values":[-0.4,-0.2,0,0.2,0.4],"labelExpr":"replace(format(datum.value, '.1f'), '\u2212', '-')","tickSize":-12,"labelPadding":21,"titlePadding":6}},
"y":{"field":"f","type":"quantitative","scale":{"domain":[-129.5,109.5],"nice":false,"zero":false},"axis":{"title":"Current / μA","values":[-100,0,100],"labelExpr":"replace(format(datum.value, 'd'), '\u2212', '-')","tickSize":-15,"labelPadding":19,"titlePadding":4}},
"detail":{"field":"c","type":"nominal"}}},
{"data":{"name":"b"},"mark":{"type":"line","interpolate":"monotone","color":"black","strokeWidth":2.2,"clip":true},
"encoding":{"x":{"field":"x","type":"quantitative"},"y":{"field":"r","type":"quantitative"},"detail":{"field":"c","type":"nominal"}}},
{"data":{"values":[{}]},"mark":{"type":"rule","color":"black","strokeWidth":2},"encoding":{"y":{"datum":109.5,"type":"quantitative"}}},
{"data":{"name":"lb"},"mark":{"type":"rule","color":"black","strokeWidth":1.3},"encoding":{"x":{"field":"x","type":"quantitative"},"y":{"field":"y","type":"quantitative"},"x2":{"field":"x2"},"y2":{"field":"y2"}}},
{"data":{"values":[{"x":0.080,"y":42.0}]},"mark":{"type":"point","shape":"M -1 -0.55 L 1 0 L -1 0.55 Z","filled":true,"color":"black","opacity":1,"size":200,"angle":342},"encoding":{"x":{"field":"x","type":"quantitative"},"y":{"field":"y","type":"quantitative"}}},
{"data":{"values":[{"x":0.131,"y":-33.3}]},"mark":{"type":"point","shape":"M -1 -0.55 L 1 0 L -1 0.55 Z","filled":true,"color":"black","opacity":1,"size":200,"angle":165.3},"encoding":{"x":{"field":"x","type":"quantitative"},"y":{"field":"y","type":"quantitative"}}},
{"data":{"name":"tb"},"mark":{"type":"text","align":"left","baseline":"alphabetic","font":"Liberation Serif","fontSize":26,"color":"black"},"encoding":{"x":{"field":"x","type":"quantitative"},"y":{"field":"y","type":"quantitative"},"text":{"field":"t"}}}
]}
]
}
